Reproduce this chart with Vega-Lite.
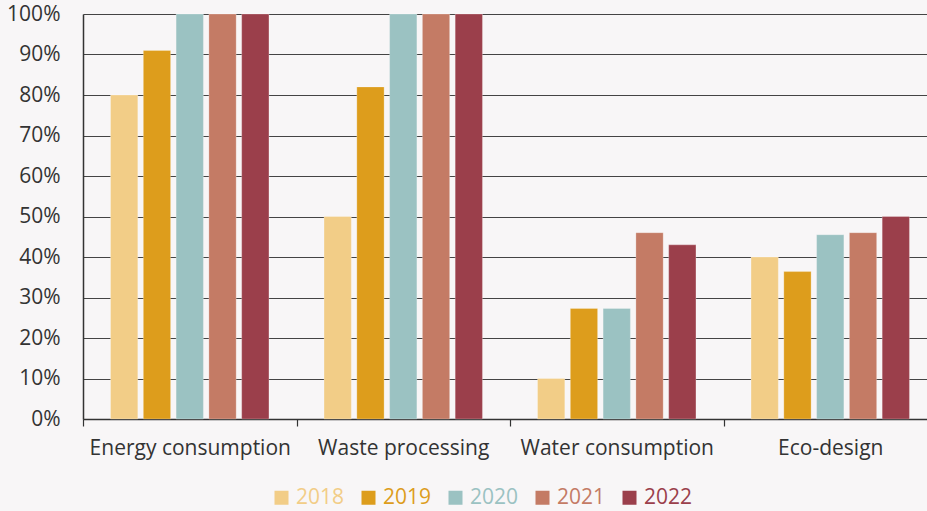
{
  "$schema": "https://vega.github.io/schema/vega-lite/v6.json",
  "width": 854,
  "height": 405,
  "autosize": {"type": "none"},
  "padding": {"left": 83, "top": 14, "right": 0, "bottom": 92},
  "background": "#f8f6f7",
  "config": {
    "font": "Open Sans",
    "view": {"stroke": null},
    "axis": {"labelFont": "Open Sans", "labelFontSize": 21, "labelColor": "#333333", "labelLimit": 0}
  },
  "data": {
    "values": [
      {"category": "Energy consumption", "year": "2018", "value": 80},
      {"category": "Energy consumption", "year": "2019", "value": 91},
      {"category": "Energy consumption", "year": "2020", "value": 100},
      {"category": "Energy consumption", "year": "2021", "value": 100},
      {"category": "Energy consumption", "year": "2022", "value": 100},
      {"category": "Waste processing", "year": "2018", "value": 50},
      {"category": "Waste processing", "year": "2019", "value": 82},
      {"category": "Waste processing", "year": "2020", "value": 100},
      {"category": "Waste processing", "year": "2021", "value": 100},
      {"category": "Waste processing", "year": "2022", "value": 100},
      {"category": "Water consumption", "year": "2018", "value": 10},
      {"category": "Water consumption", "year": "2019", "value": 27.3},
      {"category": "Water consumption", "year": "2020", "value": 27.3},
      {"category": "Water consumption", "year": "2021", "value": 46},
      {"category": "Water consumption", "year": "2022", "value": 43},
      {"category": "Eco-design", "year": "2018", "value": 40},
      {"category": "Eco-design", "year": "2019", "value": 36.4},
      {"category": "Eco-design", "year": "2020", "value": 45.5},
      {"category": "Eco-design", "year": "2021", "value": 46},
      {"category": "Eco-design", "year": "2022", "value": 50}
    ]
  },
  "mark": {"type": "bar", "stroke": "#ffffff", "strokeOpacity": 0.25, "strokeWidth": 1},
  "encoding": {
    "x": {
      "field": "category",
      "type": "nominal",
      "sort": ["Energy consumption", "Waste processing", "Water consumption", "Eco-design"],
      "scale": {"paddingInner": 0, "paddingOuter": 0},
      "axis": {
        "title": null,
        "labelAngle": 0,
        "labelLimit": 0,
        "tickBand": "extent",
        "ticks": true,
        "tickSize": 7,
        "tickColor": "#333333",
        "tickWidth": 1.2,
        "domainColor": "#333333",
        "domainWidth": 1.5,
        "labelPadding": 11,
        "grid": false
      }
    },
    "xOffset": {
      "field": "year",
      "type": "nominal",
      "scale": {"paddingInner": 0.168, "paddingOuter": 0.84}
    },
    "y": {
      "field": "value",
      "type": "quantitative",
      "scale": {"domain": [0, 100], "nice": false},
      "axis": {
        "title": null,
        "values": [0, 10, 20, 30, 40, 50, 60, 70, 80, 90, 100],
        "labelExpr": "datum.value + '%'",
        "ticks": false,
        "labelPadding": 23,
        "grid": true,
        "gridColor": "#444444",
        "gridWidth": 1.2,
        "domain": true,
        "domainColor": "#333333",
        "domainWidth": 1.5
      }
    },
    "color": {
      "field": "year",
      "type": "nominal",
      "scale": {
        "domain": ["2018", "2019", "2020", "2021", "2022"],
        "range": ["#f2cd87", "#dd9d1c", "#9bc2c2", "#c47b65", "#9b3f4b"]
      },
      "legend": {
        "title": null,
        "orient": "none",
        "direction": "horizontal",
        "legendX": 188,
        "legendY": 473,
        "symbolType": "square",
        "symbolSize": 196,
        "symbolStrokeWidth": 0,
        "labelFontSize": 21,
        "labelFont": "Open Sans",
        "labelOffset": 4,
        "columnPadding": 13,
        "labelColor": {"expr": "scale('color', datum.value)"}
      }
    }
  }
}
